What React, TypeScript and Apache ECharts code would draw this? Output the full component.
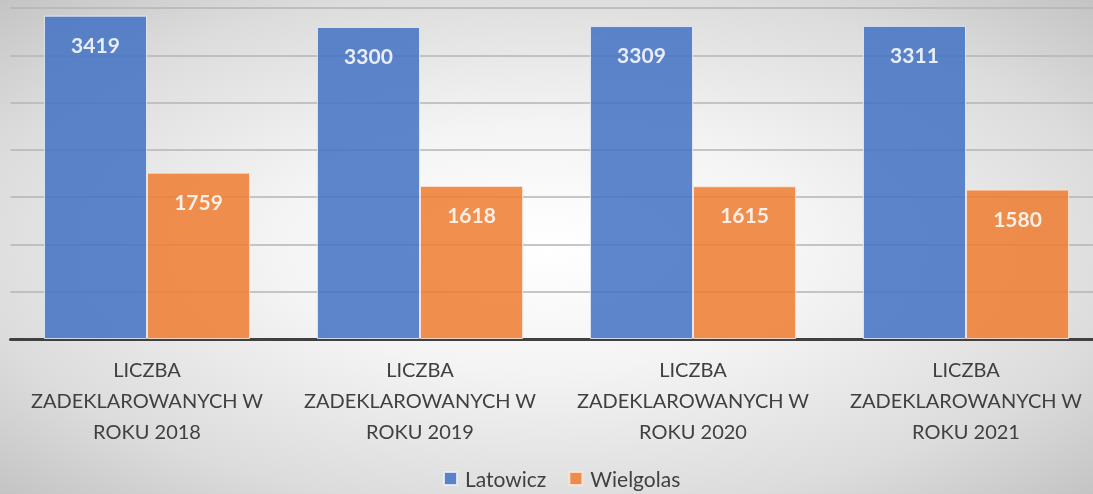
import React, { useEffect, useRef } from "react";
import * as echarts from "echarts";

const categories = [
  "LICZBA\nZADEKLAROWANYCH W\nROKU 2018",
  "LICZBA\nZADEKLAROWANYCH W\nROKU 2019",
  "LICZBA\nZADEKLAROWANYCH W\nROKU 2020",
  "LICZBA\nZADEKLAROWANYCH W\nROKU 2021",
];
const latowicz = [3419, 3300, 3309, 3311];
const wielgolas = [1759, 1618, 1615, 1580];

export default function App() {
  const ref = useRef<HTMLDivElement>(null);
  useEffect(() => {
    if (!ref.current) return;
    const chart = echarts.init(ref.current, undefined, { renderer: "svg" });
    const font = "Lato";
    const label = {
      show: true,
      position: "insideTop",
      distance: 18,
      color: "#ffffff",
      fontWeight: "bold",
      fontSize: 21,
      fontFamily: font,
    };
    chart.setOption({
      animation: false,
      backgroundColor: "transparent",
      grid: {
        left: 10.5,
        width: 1092,
        top: 8,
        bottom: 155,
        containLabel: false,
        outerBoundsMode: "none",
      },
      legend: {
        top: 463,
        left: 438,
        icon: "rect",
        itemWidth: 13,
        itemHeight: 13,
        itemGap: 22,
        textStyle: { color: "#404040", fontSize: 21, fontFamily: font, padding: [0, 0, 0, 3] },
        data: ["Latowicz", "Wielgolas"],
      },
      xAxis: {
        type: "category",
        data: categories,
        axisLine: { lineStyle: { color: "#404040", width: 3 } },
        axisTick: { show: false },
        axisLabel: {
          color: "#404040",
          fontSize: 20,
          fontFamily: font,
          lineHeight: 31,
          margin: 14,
          interval: 0,
        },
      },
      yAxis: {
        type: "value",
        min: 0,
        max: 3500,
        interval: 500,
        axisLabel: { show: false },
        axisLine: { show: false },
        axisTick: { show: false },
        splitLine: { lineStyle: { color: "#b4b4b4", width: 1.5 } },
      },
      series: [
        {
          name: "Latowicz",
          type: "bar",
          data: latowicz,
          barGap: "0%",
          barCategoryGap: "24.5%",
          itemStyle: { color: "#4472C4", opacity: 0.86, borderColor: "#e8eef8", borderWidth: 1 },
          label,
        },
        {
          name: "Wielgolas",
          type: "bar",
          data: wielgolas,
          itemStyle: { color: "#ED7D31", opacity: 0.86, borderColor: "#fbe6d8", borderWidth: 1 },
          label,
        },
      ],
    });
    return () => chart.dispose();
  }, []);
  return (
    <div
      style={{
        position: "fixed",
        left: 0,
        top: 0,
        width: 1093,
        height: 494,
        overflow: "hidden",
        background:
          "radial-gradient(ellipse at 50% 50%, #ffffff 0%, #f4f4f4 35%, #dcdcdc 75%, #c4c4c4 100%)",
      }}
    >
      <div ref={ref} style={{ width: 1093, height: 494 }} />
    </div>
  );
}
